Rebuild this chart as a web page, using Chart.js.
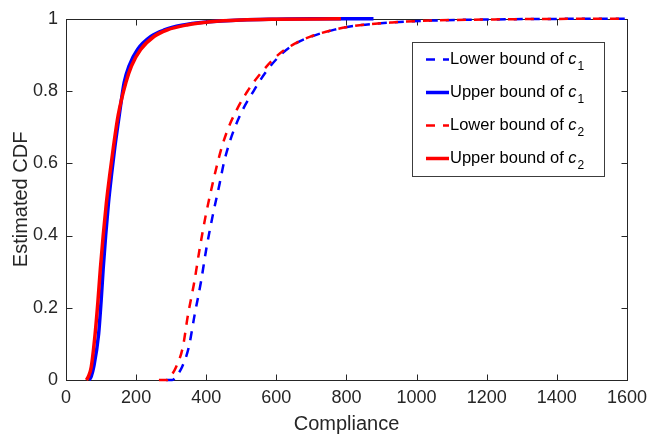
<!DOCTYPE html>
<html>
<head>
<meta charset="utf-8">
<script src="https://cdn.jsdelivr.net/npm/chart.js@4"></script>
<style>
  html, body { margin: 0; padding: 0; background: #fff; }
</style>
</head>
<body>
<canvas id="cdf" width="654" height="439"></canvas>
<script>
// axis ticks
const xTicks = [0, 200, 400, 600, 800, 1000, 1200, 1400, 1600];
const yTicks = [0, 0.2, 0.4, 0.6, 0.8, 1];

// lower / upper bound CDFs
const c1LowerX = [285, 303, 318, 331, 350, 367, 385, 400, 418, 438, 450, 464, 482, 505, 535, 568, 612, 652, 697, 766, 820, 930, 1040, 1200, 1500, 1600];
const c1LowerY = [0, 0, 0.015, 0.036, 0.09, 0.181, 0.272, 0.362, 0.453, 0.543, 0.6, 0.65, 0.7, 0.75, 0.8, 0.85, 0.9, 0.93, 0.95, 0.97, 0.98, 0.99, 0.995, 0.998, 1, 1];

const c1UpperX = [66, 72, 79, 93, 100, 106, 113, 121, 130, 139, 152, 166, 180, 204, 242, 280, 330, 400, 500, 600, 700, 877];
const c1UpperY = [0, 0.01, 0.036, 0.127, 0.217, 0.308, 0.399, 0.489, 0.57, 0.643, 0.734, 0.824, 0.87, 0.915, 0.951, 0.969, 0.982, 0.991, 0.997, 0.999, 1, 1];

const c2LowerX = [265, 289, 302, 314, 333, 348, 366, 381, 398, 418, 432, 446, 464, 488, 518, 556, 605, 650, 695, 765, 820, 930, 1040, 1200, 1500, 1600];
const c2LowerY = [0, 0, 0.015, 0.036, 0.09, 0.181, 0.272, 0.362, 0.453, 0.543, 0.6, 0.65, 0.7, 0.75, 0.8, 0.85, 0.9, 0.93, 0.95, 0.97, 0.98, 0.99, 0.995, 0.998, 1, 1];

const c2UpperX = [58, 64, 72, 83, 91, 98, 106, 115, 125, 135, 149, 171, 187, 213, 251, 288, 345, 412, 500, 600, 784];
const c2UpperY = [0, 0.01, 0.036, 0.127, 0.217, 0.308, 0.399, 0.489, 0.57, 0.643, 0.734, 0.824, 0.87, 0.915, 0.951, 0.969, 0.983, 0.992, 0.997, 0.999, 1];

const legendNames = ['Lower bound of ', 'Upper bound of ', 'Lower bound of ', 'Upper bound of '];
const legendSubs = ['1', '1', '2', '2'];

const FONT = '"Liberation Sans", Arial, sans-serif';
const INK = '#262626';
const DASH = [9, 8];

function pts(xs, ys) {
    return xs.map((x, i) => ({ x: x, y: ys[i] }));
}

function series(label, xs, ys, color, dashed, order) {
    return {
        label: label,
        data: pts(xs, ys),
        borderColor: color,
        backgroundColor: color,
        borderWidth: dashed ? 2.5 : 3.5,
        borderDash: dashed ? DASH : [],
        pointRadius: 0,
        showLine: true,
        cubicInterpolationMode: 'monotone',
        clip: 6,
        order: order
    };
}

// box with inward ticks (MATLAB style) + legend with subscripts
const matlabBox = {
    id: 'matlabBox',
    beforeDatasetsDraw(chart) {
        const { ctx, chartArea: a, scales: { x, y } } = chart;
        const l = Math.round(a.left) + 0.5, r = Math.round(a.right) + 0.5;
        const t = Math.round(a.top) + 0.5, b = Math.round(a.bottom) + 0.5;
        const tl = 6;
        ctx.save();
        ctx.strokeStyle = INK;
        ctx.lineWidth = 1;
        ctx.strokeRect(l, t, r - l, b - t);
        ctx.beginPath();
        xTicks.forEach(v => {
            const px = Math.round(x.getPixelForValue(v)) + 0.5;
            ctx.moveTo(px, b); ctx.lineTo(px, b - tl);
            ctx.moveTo(px, t); ctx.lineTo(px, t + tl);
        });
        yTicks.forEach(v => {
            const py = Math.round(y.getPixelForValue(v)) + 0.5;
            ctx.moveTo(l, py); ctx.lineTo(l + tl, py);
            ctx.moveTo(r, py); ctx.lineTo(r - tl, py);
        });
        ctx.stroke();
        ctx.restore();
    },
    afterDraw(chart) {
        const ctx = chart.ctx;
        const bx = 412.5, by = 42.5, bw = 192, bh = 134;
        ctx.save();
        ctx.fillStyle = '#fff';
        ctx.fillRect(bx, by, bw, bh);
        ctx.strokeStyle = '#3c3c3c';
        ctx.lineWidth = 1;
        ctx.strokeRect(bx, by, bw, bh);
        chart.data.datasets.forEach((ds, i) => {
            const cy = 59.5 + i * 33;
            ctx.beginPath();
            ctx.strokeStyle = ds.borderColor;
            ctx.lineWidth = ds.borderWidth;
            ctx.setLineDash(ds.borderDash);
            ctx.moveTo(426, cy);
            ctx.lineTo(449, cy);
            ctx.stroke();
            ctx.setLineDash([]);
            ctx.fillStyle = '#000';
            ctx.textBaseline = 'middle';
            ctx.textAlign = 'left';
            ctx.font = '16.5px ' + FONT;
            let tx = 450;
            ctx.fillText(legendNames[i], tx, cy);
            tx += ctx.measureText(legendNames[i]).width;
            ctx.font = 'italic 16.5px ' + FONT;
            ctx.fillText('c', tx, cy);
            tx += ctx.measureText('c').width + 1;
            ctx.font = '12px ' + FONT;
            ctx.fillText(legendSubs[i], tx, cy + 7);
        });
        ctx.restore();
    }
};

new Chart(document.getElementById('cdf'), {
    type: 'scatter',
    data: {
        datasets: [
            series('Lower bound of c1', c1LowerX, c1LowerY, '#0000ff', true, 3),
            series('Upper bound of c1', c1UpperX, c1UpperY, '#0000ff', false, 2),
            series('Lower bound of c2', c2LowerX, c2LowerY, '#ff0000', true, 1),
            series('Upper bound of c2', c2UpperX, c2UpperY, '#ff0000', false, 0)
        ]
    },
    options: {
        responsive: false,
        devicePixelRatio: 1,
        animation: false,
        layout: { padding: { top: 12, right: 23, left: 0, bottom: 0 } },
        plugins: {
            legend: { display: false },
            tooltip: { enabled: false }
        },
        scales: {
            x: {
                type: 'linear',
                min: 0,
                max: 1600,
                afterBuildTicks: s => { s.ticks = xTicks.map(v => ({ value: v })); },
                afterFit: s => { s.height = 59; },
                grid: { display: false, drawTicks: false },
                border: { display: false },
                ticks: {
                    color: INK,
                    padding: 7,
                    maxRotation: 0,
                    font: { family: FONT, size: 18 },
                    callback: v => String(v)
                },
                title: {
                    display: true,
                    text: 'Compliance',
                    color: INK,
                    font: { family: FONT, size: 20 },
                    padding: { top: 0, bottom: 3 }
                }
            },
            y: {
                type: 'linear',
                min: 0,
                max: 1,
                afterBuildTicks: s => { s.ticks = yTicks.map(v => ({ value: v })); },
                afterFit: s => { s.width = 66; },
                grid: { display: false, drawTicks: false },
                border: { display: false },
                ticks: {
                    color: INK,
                    padding: 8,
                    font: { family: FONT, size: 18 },
                    callback: v => String(v)
                },
                title: {
                    display: true,
                    text: 'Estimated CDF',
                    color: INK,
                    font: { family: FONT, size: 20 },
                    padding: { top: 9, bottom: 0 }
                }
            }
        }
    },
    plugins: [matlabBox]
});
</script>
</body>
</html>
